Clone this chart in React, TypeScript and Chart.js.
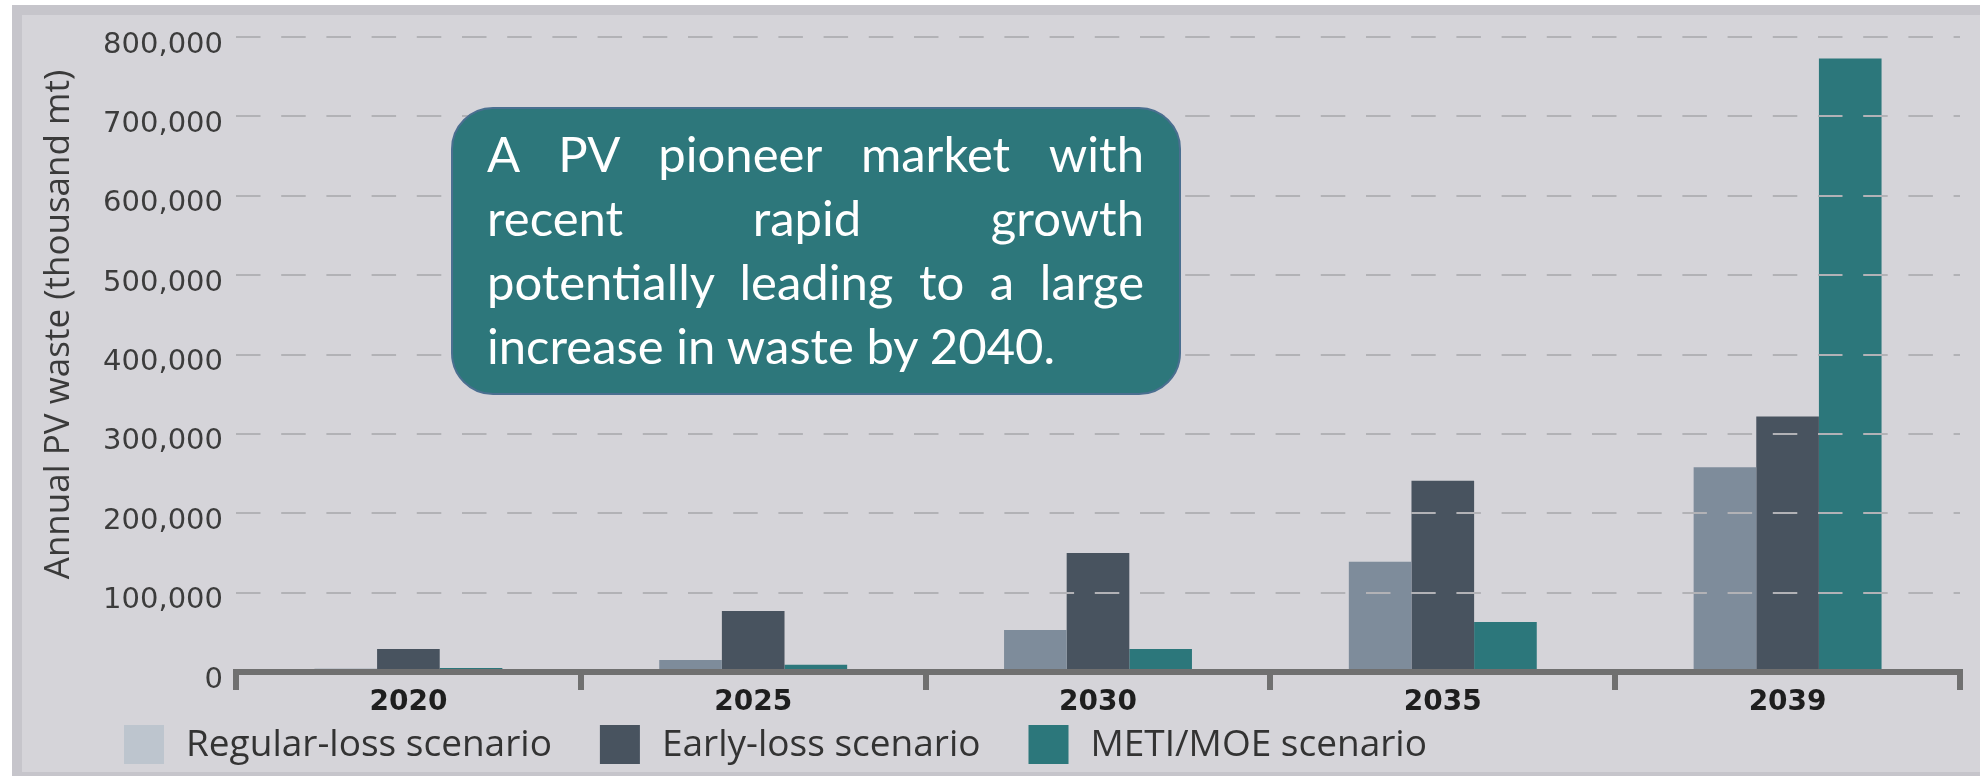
import React, { useEffect, useRef } from 'react';
import { Chart, registerables } from 'chart.js';

Chart.register(...registerables);

const categories = ['2020', '2025', '2030', '2035', '2039'];
const regularLoss = [4000, 15000, 53000, 139000, 258000];
const earlyLoss = [29000, 77000, 150000, 241000, 322000];
const metiMoe = [5000, 9000, 29000, 63000, 773000];
const seriesNames = ['Regular-loss scenario', 'Early-loss scenario', 'METI/MOE scenario'];
const barColors = ['#7e8c9b', '#48535f', '#2c777b'];
const legendColors = ['#bdc5ce', '#48535f', '#2c777b'];
const yMax = 800000;
const yStep = 100000;
const yAxisTitle = 'Annual PV waste (thousand mt)';
const noteLines = [
  'A PV pioneer market with',
  'recent rapid growth',
  'potentially leading to a large',
  'increase in waste by 2040.',
];

const extrasPlugin = {
  id: 'extras',
  afterDraw(chart: any) {
    const ctx = chart.ctx;
    const area = chart.chartArea;
    // y-axis title
    ctx.save();
    ctx.font = '35px "Open Sans"';
    ctx.fillStyle = '#3a3a3a';
    ctx.translate(69, (area.top + area.bottom) / 2 - 30);
    ctx.rotate(-Math.PI / 2);
    ctx.textAlign = 'center';
    ctx.textBaseline = 'alphabetic';
    ctx.fillText(yAxisTitle, 0, 0);
    ctx.restore();
    // legend
    ctx.save();
    ctx.font = '37px "Open Sans"';
    ctx.textBaseline = 'alphabetic';
    ctx.textAlign = 'left';
    let x = 124;
    const boxTop = area.bottom + 53;
    chart.data.datasets.forEach((ds: any, i: number) => {
      ctx.fillStyle = legendColors[i];
      ctx.fillRect(x, boxTop, 40, 39);
      ctx.fillStyle = '#333333';
      ctx.fillText(ds.label, x + 62, boxTop + 30.5);
      x += 62 + ctx.measureText(ds.label).width + 48;
    });
    ctx.restore();
  },
};

export default function App() {
  const canvasRef = useRef<HTMLCanvasElement | null>(null);

  useEffect(() => {
    if (!canvasRef.current) return;
    const series = [regularLoss, earlyLoss, metiMoe];
    const chart = new Chart(canvasRef.current, {
      type: 'bar',
      data: {
        labels: categories,
        datasets: series.map((d, i) => ({
          label: seriesNames[i],
          data: d,
          backgroundColor: barColors[i],
          borderWidth: 0,
          categoryPercentage: 0.545,
          barPercentage: 1,
        })),
      },
      options: {
        responsive: false,
        animation: false,
        locale: 'en-US',
        layout: { padding: { left: 0, right: 20, top: 37, bottom: 44 } },
        plugins: { legend: { display: false }, tooltip: { enabled: false } },
        scales: {
          x: {
            grid: {
              drawOnChartArea: false,
              drawTicks: true,
              tickLength: 18,
              lineWidth: 6,
              color: '#707070',
              z: 2,
              offset: true,
            },
            border: { display: true, color: '#707070', width: 6, z: 2 },
            ticks: {
              font: { family: '"DejaVu Sans"', size: 28, weight: 'bold' },
              color: '#1e1e1e',
              padding: -4,
            },
            afterFit: (s: any) => {
              s.height = 60;
            },
          },
          y: {
            min: 0,
            max: yMax,
            ticks: {
              stepSize: yStep,
              font: { family: '"DejaVu Sans"', size: 29 },
              color: '#3c3c3c',
              padding: 13,
              labelOffset: 8,
            },
            grid: {
              color: (c: any) => (c.tick && c.tick.value === 0 ? 'rgba(0,0,0,0)' : '#b2b2b6'),
              lineWidth: 2,
              drawTicks: false,
              z: 1,
            },
            border: { display: false, dash: [24.5, 20.7] },
            afterFit: (s: any) => {
              s.width = 236;
            },
          },
        },
      } as any,
      plugins: [extrasPlugin],
    });
    return () => chart.destroy();
  }, []);

  return (
    <div
      style={{
        position: 'absolute',
        left: 0,
        top: 0,
        width: 1980,
        height: 776,
        background: '#ffffff',
        overflow: 'hidden',
      }}
    >
      <div style={{ position: 'absolute', left: 12, top: 5, right: -20, bottom: 0, background: '#c6c5cb' }} />
      <div style={{ position: 'absolute', left: 22, top: 15, right: -20, bottom: 4, background: '#d5d4d9' }} />
      <canvas
        ref={canvasRef}
        width={1980}
        height={776}
        style={{ position: 'absolute', left: 0, top: 0, width: 1980, height: 776 }}
      />
      <div
        style={{
          position: 'absolute',
          left: 451,
          top: 107,
          width: 730,
          height: 288,
          boxSizing: 'border-box',
          borderRadius: 42,
          background: '#2d777b',
          border: '2px solid #4a6f90',
        }}
      />
      <div
        style={{
          position: 'absolute',
          left: 487,
          top: 121,
          width: 657,
          fontFamily: 'Lato, sans-serif',
          fontSize: 49,
          color: '#ffffff',
        }}
      >
        {noteLines.map((line, i) => (
          <div
            key={i}
            style={{
              height: 64,
              lineHeight: '64px',
              whiteSpace: 'nowrap',
              textAlign: i === noteLines.length - 1 ? 'left' : 'justify',
              textAlignLast: i === noteLines.length - 1 ? 'left' : 'justify',
            }}
          >
            {line}
          </div>
        ))}
      </div>
    </div>
  );
}
